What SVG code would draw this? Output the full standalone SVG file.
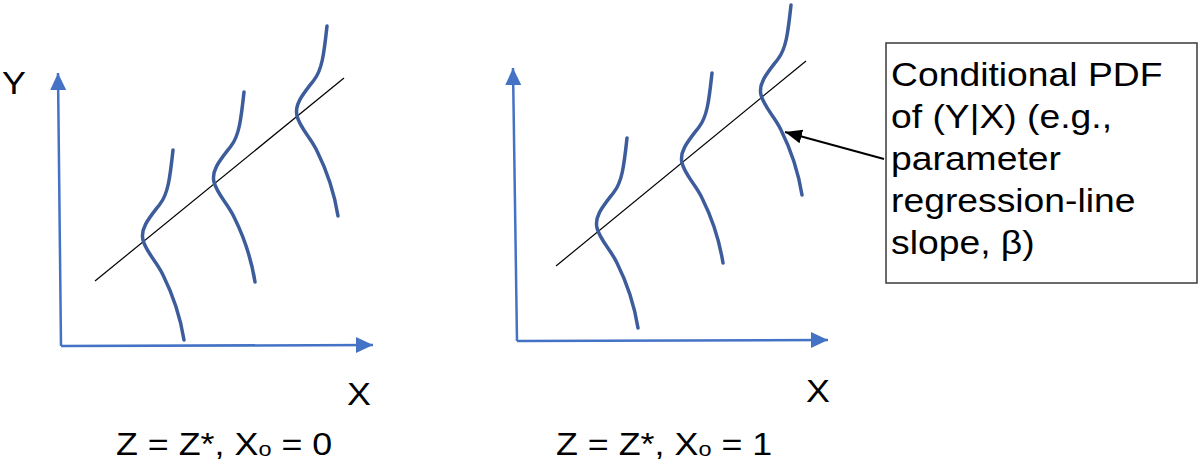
<svg xmlns="http://www.w3.org/2000/svg" width="1200" height="466" viewBox="0 0 1200 466">
<style>
.axis{stroke:#4472C4;stroke-width:2.5;fill:none;marker-end:url(#bluehead)}
.reg{stroke:#000;stroke-width:1.2;fill:none}
.pdf{stroke:#3D5C9B;stroke-width:3.5;fill:none;stroke-linecap:round}
.lbl{font-family:"Liberation Sans",Arial,sans-serif;font-size:32px;fill:#000}
.box{fill:#fff;stroke:#3a3a3a;stroke-width:1.5}
</style>
<defs>
<marker id="bluehead" markerUnits="userSpaceOnUse" markerWidth="20" markerHeight="20" refX="17" refY="8" orient="auto">
<path d="M0,0 L17,8 L0,16 z" fill="#4472C4"/>
</marker>
<marker id="blackhead" markerUnits="userSpaceOnUse" markerWidth="20" markerHeight="18" refX="17" refY="7" orient="auto">
<path d="M0,0 L17,7 L0,14 z" fill="#000"/>
</marker>
<path id="pdfshape" class="pdf" d="M30,-90 C27,-62 25,-46 17,-36 C7,-23 -3,-12 0,0 C3,12 14,22 20,35 C30,55 37,75 41,100"/>
</defs>

<g id="left-panel">
<line class="axis" x1="61" y1="346" x2="58" y2="73"/>
<line class="axis" x1="61" y1="346" x2="373" y2="345"/>
<line class="reg" x1="95" y1="281" x2="344" y2="78"/>
<use href="#pdfshape" x="143" y="240"/>
<use href="#pdfshape" x="214" y="182"/>
<use href="#pdfshape" x="297" y="116"/>
<text class="lbl" transform="translate(2,94) scale(1.12,1)">Y</text>
<text class="lbl" transform="translate(347,405) scale(1.12,1)">X</text>
<text class="lbl" transform="translate(116,455) scale(1.12,1)">Z = Z*, X<tspan font-size="21" dy="1">o</tspan><tspan dy="-1"> = 0</tspan></text>
</g>

<g id="right-panel">
<line class="axis" x1="517" y1="341" x2="513" y2="68"/>
<line class="axis" x1="517" y1="341" x2="828" y2="340"/>
<line class="reg" x1="556" y1="266" x2="806" y2="61"/>
<use href="#pdfshape" x="597" y="228"/>
<use href="#pdfshape" x="682" y="163"/>
<use href="#pdfshape" x="761" y="95"/>
<text class="lbl" transform="translate(806,402) scale(1.12,1)">X</text>
<text class="lbl" transform="translate(556,455) scale(1.12,1)">Z = Z*, X<tspan font-size="21" dy="1">o</tspan><tspan dy="-1"> = 1</tspan></text>
</g>

<g id="callout">
<rect class="box" x="886" y="43" width="311" height="240"/>
<text class="lbl" style="font-size:33px" transform="translate(891,86) scale(1.13,1)"><tspan x="0" y="0">Conditional PDF</tspan><tspan x="0" y="42">of (Y|X) (e.g.,</tspan><tspan x="0" y="84">parameter</tspan><tspan x="0" y="126">regression-line</tspan><tspan x="0" y="168">slope, β)</tspan></text>
</g>

<g id="connectors">
<line x1="884" y1="159" x2="785" y2="132" stroke="#000" stroke-width="2" marker-end="url(#blackhead)"/>
</g>
</svg>
